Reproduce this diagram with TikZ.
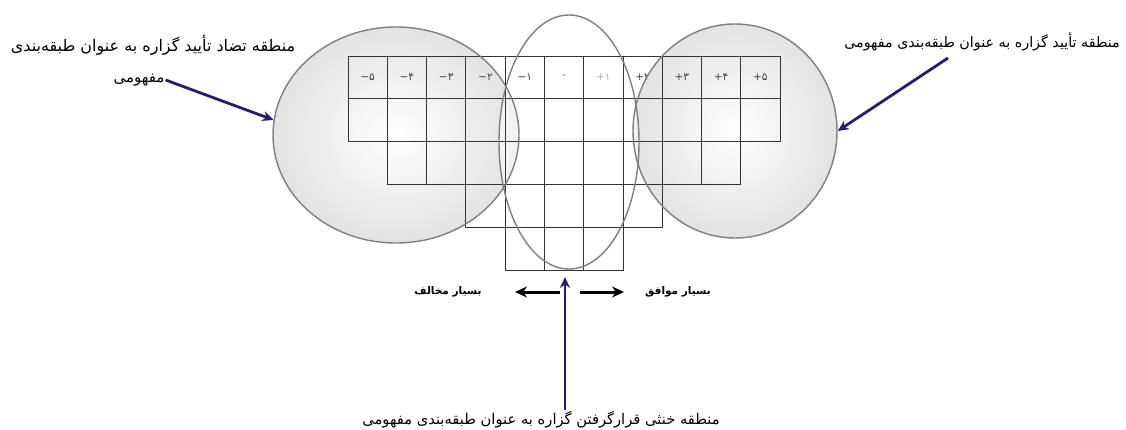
\documentclass[tikz,border=0pt]{standalone}
\usepackage{fontspec}
\usetikzlibrary{shapes.geometric,arrows.meta}
\TeXXeTstate=1
\newfontfamily\arabicfont[Script=Arabic]{DejaVu Sans}
\definecolor{navy}{HTML}{231F6E}
\definecolor{ringgray}{HTML}{7F7F7F}
\definecolor{gridline}{HTML}{333333}
\newcommand{\lab}[2]{\mbox{#1}\mbox{#2}}
\tikzset{
  ring/.style={ellipse, draw=ringgray, line width=1.4pt, inner sep=0pt},
  ringfill/.style={inner color=white, outer color=gray!22},
  cellbox/.style={draw=gridline, line width=0.65pt},
  collabel/.style={font=\arabicfont\fontsize{10.5}{10.5}\selectfont, text=black!75, inner sep=0pt},
  fatext/.style={font=\arabicfont\fontsize{#1}{#1}\selectfont, inner sep=1pt},
  boldtext/.style={font=\arabicfont\bfseries\fontsize{10.5}{12}\selectfont, inner sep=1pt},
  bluearrow/.style={draw=navy, line width=2.8pt, -{Stealth[length=11pt,width=10pt]}},
  blackarrow/.style={draw=black, line width=3pt, -{Stealth[length=12pt,width=11pt]}}
}
\begin{document}
\begin{tikzpicture}[x=1pt,y=-1pt]
\useasboundingbox (0,0) rectangle (1126,430);
\fill[white] (0,0) rectangle (1126,430);

% circle fills
\shade[ringfill] (396,135) ellipse [x radius=123, y radius=108];
\shade[ringfill] (735,131) ellipse [x radius=102, y radius=107];
\fill[white, fill opacity=0.55] (569,142) ellipse [x radius=70, y radius=127];

% grid
\def\cw{39.27}\def\rh{42.8}
\foreach \c in {0,...,10} {
  \draw[cellbox] (348+\c*\cw,56) rectangle (348+\c*\cw+\cw,56+\rh);
  \draw[cellbox] (348+\c*\cw,56+\rh) rectangle (348+\c*\cw+\cw,56+2*\rh);
}
\foreach \c in {1,...,9}
  \draw[cellbox] (348+\c*\cw,56+2*\rh) rectangle (348+\c*\cw+\cw,56+3*\rh);
\foreach \c in {3,...,7}
  \draw[cellbox] (348+\c*\cw,56+3*\rh) rectangle (348+\c*\cw+\cw,56+4*\rh);
\foreach \c in {4,...,6}
  \draw[cellbox] (348+\c*\cw,56+4*\rh) rectangle (348+\c*\cw+\cw,56+5*\rh);

% column labels
\foreach \c/\s/\d in {0/−/۵,1/−/۴,2/−/۳,3/−/۲,4/−/۱,7/+/۲,8/+/۳,9/+/۴,10/+/۵}
  \node[collabel] (lab\c) at (348+\c*\cw+0.5*\cw,77) {\lab{\s}{\d}};
\node[collabel] (lab5) at (348+5*\cw+0.5*\cw,77) {۰};
\node[collabel, text=black!30] (lab6) at (348+6*\cw+0.5*\cw,77) {\lab{+}{۱}};

% circle outlines
\node[ring, minimum width=246pt, minimum height=216pt] (L) at (396,135) {};
\node[ring, minimum width=204pt, minimum height=214pt] (R) at (735,131) {};
\node[ring, minimum width=140pt, minimum height=254pt] (M) at (569,142) {};

% texts
\node[fatext=16] (tl1) at (153,45) {\beginR منطقه تضاد تأیید گزاره به عنوان طبقه‌بندی\endR};
\node[fatext=15] (tl2) at (139,80) {\beginR مفهومی\endR};
\node[fatext=14.3] (tr) at (982,42) {\beginR منطقه تأیید گزاره به عنوان طبقه‌بندی مفهومی\endR};
\node[fatext=14.7] (bt) at (541,420) {\beginR منطقه خنثی قرارگرفتن گزاره به عنوان طبقه‌بندی مفهومی\endR};
\node[boldtext] (neg) at (448,292) {\beginR بسیار مخالف\endR};
\node[boldtext] (pos) at (678,292) {\beginR بسیار موافق\endR};

% arrows
\draw[bluearrow] (tl2.east) -- (L.173);
\coordinate (ra) at (948,58);
\draw[bluearrow] (ra) -- (R.east);
\coordinate (up) at (565,277);
\draw[bluearrow] (bt.north -| up) -- (up);
\coordinate (als) at (560,292);
\coordinate (alt) at (515,292);
\coordinate (ars) at (580,292);
\coordinate (art) at (624,292);
\draw[blackarrow] (als) -- (alt);
\draw[blackarrow] (ars) -- (art);
\end{tikzpicture}
\end{document}
